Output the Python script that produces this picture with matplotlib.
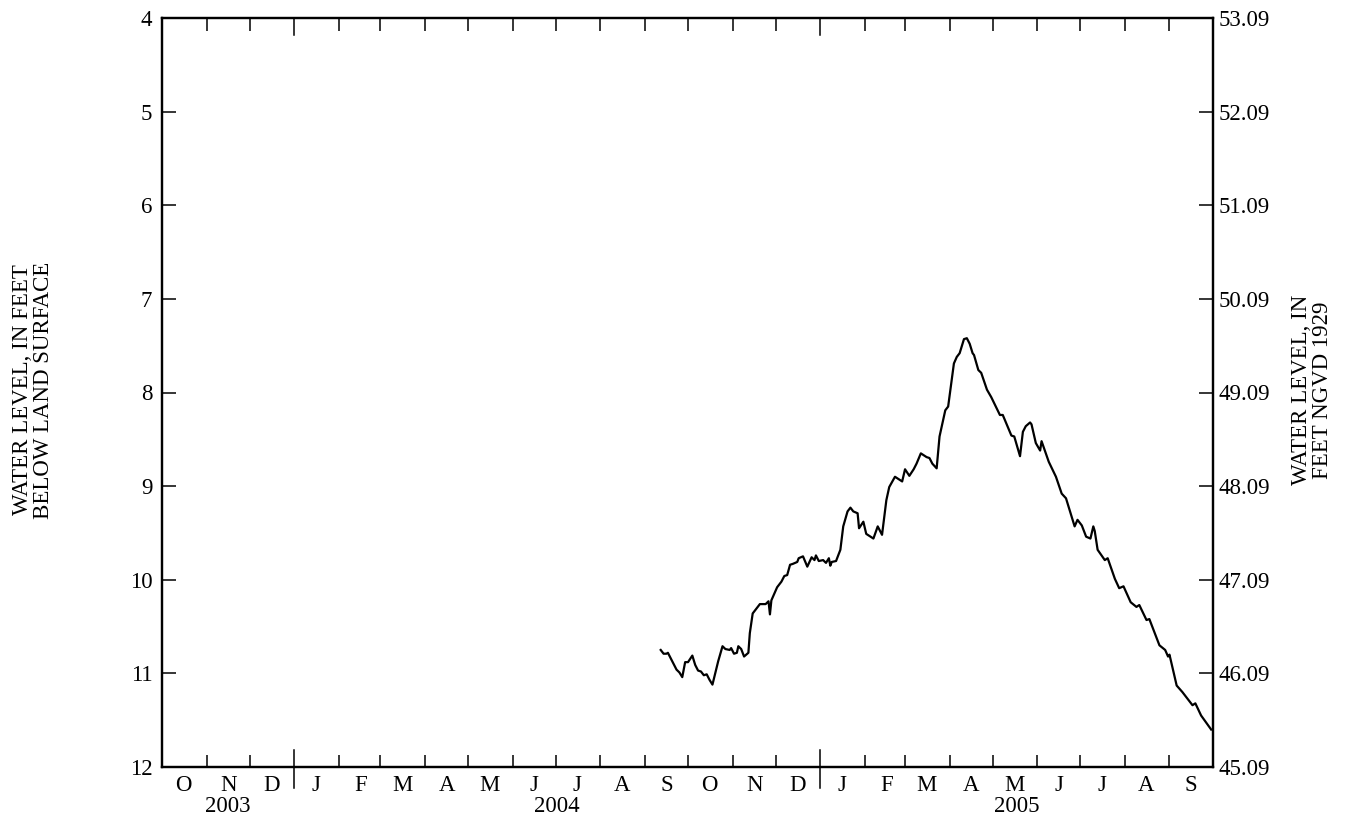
import matplotlib
matplotlib.use("Agg")
import matplotlib.pyplot as plt
import pandas as pd

plt.rcParams['font.family'] = ['Liberation Serif', 'DejaVu Serif']

# ---- data ----
dates = [
    "2004-09-12", "2004-09-14", "2004-09-16", "2004-09-17", "2004-09-19", "2004-09-23",
    "2004-09-25", "2004-09-27", "2004-09-29", "2004-10-01", "2004-10-04", "2004-10-06",
    "2004-10-08", "2004-10-10", "2004-10-12", "2004-10-14", "2004-10-16", "2004-10-18",
    "2004-10-22", "2004-10-25", "2004-10-27", "2004-10-30", "2004-10-31", "2004-11-02",
    "2004-11-04", "2004-11-05", "2004-11-07", "2004-11-09", "2004-11-12", "2004-11-13",
    "2004-11-15", "2004-11-20", "2004-11-24", "2004-11-26", "2004-11-27", "2004-11-28",
    "2004-11-30", "2004-12-02", "2004-12-05", "2004-12-07", "2004-12-09", "2004-12-11",
    "2004-12-13", "2004-12-16", "2004-12-17", "2004-12-20", "2004-12-23", "2004-12-26",
    "2004-12-28", "2004-12-29", "2004-12-31", "2005-01-03", "2005-01-05", "2005-01-07",
    "2005-01-08", "2005-01-09", "2005-01-12", "2005-01-15", "2005-01-17", "2005-01-20",
    "2005-01-22", "2005-01-24", "2005-01-27", "2005-01-28", "2005-01-31", "2005-02-02",
    "2005-02-07", "2005-02-10", "2005-02-13", "2005-02-16", "2005-02-18", "2005-02-22",
    "2005-02-24", "2005-02-27", "2005-03-01", "2005-03-04", "2005-03-07", "2005-03-09",
    "2005-03-12", "2005-03-16", "2005-03-18", "2005-03-20", "2005-03-23", "2005-03-25",
    "2005-03-27", "2005-03-29", "2005-03-31", "2005-04-04", "2005-04-06", "2005-04-08",
    "2005-04-11", "2005-04-13", "2005-04-15", "2005-04-17", "2005-04-18", "2005-04-21",
    "2005-04-23", "2005-04-27", "2005-04-30", "2005-05-06", "2005-05-08", "2005-05-14",
    "2005-05-16", "2005-05-20", "2005-05-22", "2005-05-24", "2005-05-27", "2005-05-28",
    "2005-05-31", "2005-06-03", "2005-06-04", "2005-06-09", "2005-06-14", "2005-06-18",
    "2005-06-21", "2005-06-27", "2005-06-29", "2005-07-02", "2005-07-05", "2005-07-08",
    "2005-07-10", "2005-07-11", "2005-07-13", "2005-07-18", "2005-07-20", "2005-07-25",
    "2005-07-28", "2005-07-31", "2005-08-05", "2005-08-09", "2005-08-11", "2005-08-16",
    "2005-08-18", "2005-08-25", "2005-08-29", "2005-08-31", "2005-09-01", "2005-09-06",
    "2005-09-10", "2005-09-17", "2005-09-19", "2005-09-23", "2005-09-30",
]
depth = [
    10.75, 10.79, 10.79, 10.78, 10.84, 10.96,
    10.99, 11.04, 10.88, 10.88, 10.81, 10.91,
    10.97, 10.98, 11.02, 11.01, 11.07, 11.12,
    10.87, 10.71, 10.74, 10.75, 10.73, 10.79,
    10.78, 10.71, 10.74, 10.82, 10.78, 10.57,
    10.36, 10.26, 10.26, 10.23, 10.37, 10.22,
    10.15, 10.08, 10.02, 9.96, 9.95, 9.84,
    9.83, 9.81, 9.77, 9.75, 9.86, 9.76,
    9.79, 9.74, 9.80, 9.79, 9.82, 9.77,
    9.85, 9.81, 9.80, 9.68, 9.43, 9.27,
    9.23, 9.27, 9.29, 9.45, 9.38, 9.51,
    9.56, 9.43, 9.52, 9.15, 9.01, 8.90,
    8.92, 8.95, 8.82, 8.89, 8.82, 8.76,
    8.65, 8.69, 8.70, 8.76, 8.81, 8.47,
    8.33, 8.19, 8.15, 7.69, 7.62, 7.58,
    7.43, 7.42, 7.48, 7.58, 7.60, 7.76,
    7.79, 7.97, 8.05, 8.24, 8.24, 8.46,
    8.47, 8.68, 8.42, 8.36, 8.32, 8.34,
    8.54, 8.62, 8.52, 8.74, 8.90, 9.08,
    9.13, 9.43, 9.36, 9.42, 9.54, 9.56,
    9.43, 9.48, 9.68, 9.79, 9.77, 9.99,
    10.09, 10.07, 10.24, 10.29, 10.27, 10.43,
    10.42, 10.70, 10.75, 10.82, 10.80, 11.13,
    11.20, 11.34, 11.32, 11.45, 11.60,
]
month_letters = ["O", "N", "D", "J", "F", "M", "A", "M", "J", "J", "A", "S",
                 "O", "N", "D", "J", "F", "M", "A", "M", "J", "J", "A", "S"]
years = ["2003", "2004", "2005"]
year_spans = [("2003-10-01", "2004-01-01"), ("2004-01-01", "2005-01-01"), ("2005-01-01", "2005-10-01")]
left_ticks = [4, 5, 6, 7, 8, 9, 10, 11, 12]
right_ticks = [53.09, 52.09, 51.09, 50.09, 49.09, 48.09, 47.09, 46.09, 45.09]

x = pd.to_datetime(dates)
start = pd.Timestamp("2003-10-01")
end = pd.Timestamp("2005-10-01")

FS = 16.5

fig = plt.figure(figsize=(13.61, 8.23), dpi=100)
ax = fig.add_axes([162/1361, 56/823, (1212.6-162)/1361, (767-18)/823])
ax.plot(x, depth, color="black", lw=1.6)
ax.set_xlim(start, end)
ax.set_ylim(12, 4)
ax.set_yticks(left_ticks)
ax.set_yticklabels([str(v) for v in left_ticks])

for s in ax.spines.values():
    s.set_linewidth(1.6)

month_starts = pd.date_range(start, end, freq="MS")
inner = [d for d in month_starts[1:-1] if d.month != 1]
ax.set_xticks(inner)
ax.set_xticklabels([])
mids = [d + pd.Timedelta(days=15) for d in month_starts[:-1]]
ax.set_xticks(mids, minor=True)
ax.set_xticklabels(month_letters, minor=True)
ax.tick_params(axis="x", which="major", direction="in", length=9, width=1.1, top=True)
ax.tick_params(axis="x", which="minor", length=0, pad=6, labelsize=FS)
ax.tick_params(axis="y", which="major", direction="in", length=10, width=1.1, labelsize=FS, pad=7)

# year boundary ticks
trans = ax.get_xaxis_transform()
ybounds = [pd.Timestamp("2004-01-01"), pd.Timestamp("2005-01-01")]
for d in ybounds:
    ax.plot([d, d], [-21/749, 17/749], transform=trans, color="black", lw=1.1, clip_on=False)
    ax.plot([d, d], [1 - 17/749, 1], transform=trans, color="black", lw=1.1, clip_on=False)

# year labels
for lab, (a, b) in zip(years, year_spans):
    ta, tb = pd.Timestamp(a), pd.Timestamp(b)
    mid = ta + (tb - ta) / 2
    ax.text(mid, -40/749, lab, transform=trans, ha="center", va="center", fontsize=FS)

ax2 = ax.twinx()
ax2.set_ylim(45.09, 53.09)
ax2.set_yticks(right_ticks)
ax2.set_yticklabels([f"{v:.2f}" for v in right_ticks])
ax2.tick_params(axis="y", direction="in", length=10, width=1.1, labelsize=FS, pad=4)
for s in ax2.spines.values():
    s.set_linewidth(1.6)

fig.text(33/1361, 1 - 390/823, "WATER LEVEL, IN FEET\nBELOW LAND SURFACE", rotation=90,
         ha="center", va="center", fontsize=FS, linespacing=1.0)
fig.text(1312/1361, 1 - 390/823, "WATER LEVEL, IN\nFEET NGVD 1929", rotation=90,
         ha="center", va="center", fontsize=FS, linespacing=1.0)

fig.savefig("out.png", dpi=100)
